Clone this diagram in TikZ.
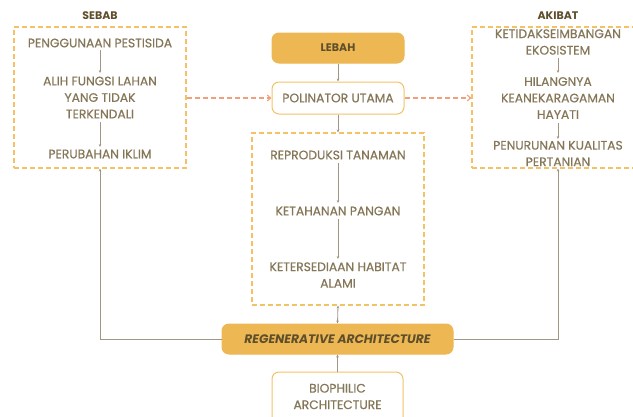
\documentclass[tikz,border=0pt]{standalone}
\usepackage{fontspec}
\setmainfont{Poppins}
\newfontfamily\medfont{Poppins}[FakeBold=0.6]
\usetikzlibrary{arrows.meta}
\definecolor{gold}{HTML}{EDB753}
\definecolor{goldline}{HTML}{F3C266}
\definecolor{txt}{HTML}{857658}
\definecolor{ttl}{HTML}{5E4E2C}
\definecolor{conn}{HTML}{A09682}
\definecolor{salmon}{HTML}{F0A07C}
\tikzset{
  lbl/.style={text=txt,font=\medfont\fontsize{12.3}{16.5}\selectfont,align=center,inner sep=0pt},
  ttlbl/.style={text=ttl,font=\fontsize{11}{12}\selectfont\bfseries,inner sep=0pt},
  dbox/.style={draw=goldline,line width=1.1pt,dash pattern=on 5pt off 3pt},
  fbox/.style={fill=gold,draw=gold,rounded corners=7pt,line width=1pt},
  wbox/.style={fill=white,draw=goldline,rounded corners=7pt,line width=1pt},
  conarrow/.style={draw=conn,line width=0.8pt,-{Stealth[length=3pt,width=2.6pt]}},
  salarrow/.style={draw=salmon,line width=1.1pt,dash pattern=on 5pt off 3pt,-{Straight Barb[length=3.5pt,width=6pt]}}
}
\begin{document}
\begin{tikzpicture}[x=1pt,y=-1pt]
\useasboundingbox (0,0) rectangle (633,416);
\clip (0,0) rectangle (633,416);
% boxes
\node[dbox,minimum width=172pt,minimum height=141pt] (sebab) at (100,97.5) {};
\node[dbox,minimum width=172pt,minimum height=141pt] (akibat) at (558,97.5) {};
\node[dbox,minimum width=172pt,minimum height=172pt] (mid) at (338,219) {};
\node[ttlbl] (tsebab) at (100,16) {SEBAB};
\node[ttlbl] (takibat) at (558,16) {AKIBAT};
\node[fbox,minimum width=132pt,minimum height=30pt,text=ttl,font=\fontsize{11}{12}\selectfont\bfseries] (lebah) at (338,48) {LEBAH};
\node[wbox,minimum width=132pt,minimum height=32pt,lbl] (pol) at (338,98) {POLINATOR UTAMA};
\node[fbox,minimum width=231pt,minimum height=30pt,text=ttl,font=\fontsize{12.3}{13}\selectfont\bfseries\itshape] (regen) at (337.5,339) {REGENERATIVE ARCHITECTURE};
\node[wbox,minimum width=131pt,minimum height=60pt] (bio) at (337.5,402) {};
\node[lbl] (biot) at (337.5,396.5) {BIOPHILIC\\ARCHITECTURE};
% sebab texts
\node[lbl] (s1) at (100,43) {PENGGUNAAN PESTISIDA};
\node[lbl] (s2) at (100,97.5) {ALIH FUNGSI LAHAN\\YANG TIDAK\\TERKENDALI};
\node[lbl] (s3) at (100,154) {PERUBAHAN IKLIM};
\draw[conarrow] (100,50) -- (100,73);
\draw[conarrow] (100,122) -- (100,147);
% akibat texts
\node[lbl] (a1) at (558,42) {KETIDAKSEIMBANGAN\\EKOSISTEM};
\node[lbl] (a2) at (558,98) {HILANGNYA\\KEANEKARAGAMAN\\HAYATI};
\node[lbl] (a3) at (558,153.5) {PENURUNAN KUALITAS\\PERTANIAN};
\draw[conarrow] (558,58) -- (558,73);
\draw[conarrow] (558,123) -- (558,139);
% mid texts
\node[lbl] (m1) at (338,155) {REPRODUKSI TANAMAN};
\node[lbl] (m2) at (338,211) {KETAHANAN PANGAN};
\node[lbl] (m3) at (338,275) {KETERSEDIAAN HABITAT\\ALAMI};
\draw[conarrow] (338,163) -- (338,203);
\draw[conarrow] (338,219) -- (338,259);
% main connectors
\draw[conarrow] (lebah.south) -- (pol.north);
\draw[conarrow] (pol.south) -- (mid.north);
\draw[salarrow] (sebab.east |- pol.west) -- (pol.west);
\draw[salarrow] (pol.east) -- (akibat.west |- pol.east);
\draw[draw=conn,line width=0.8pt,{Stealth[length=3pt,width=2.6pt]}-{Stealth[length=3pt,width=2.6pt]}] (mid.south) -- (regen.north);
\draw[conarrow] (bio.north) -- (regen.south);
\draw[conarrow] (regen.west) -| (sebab.south);
\draw[conarrow] (regen.east) -| (akibat.south);
\end{tikzpicture}
\end{document}
